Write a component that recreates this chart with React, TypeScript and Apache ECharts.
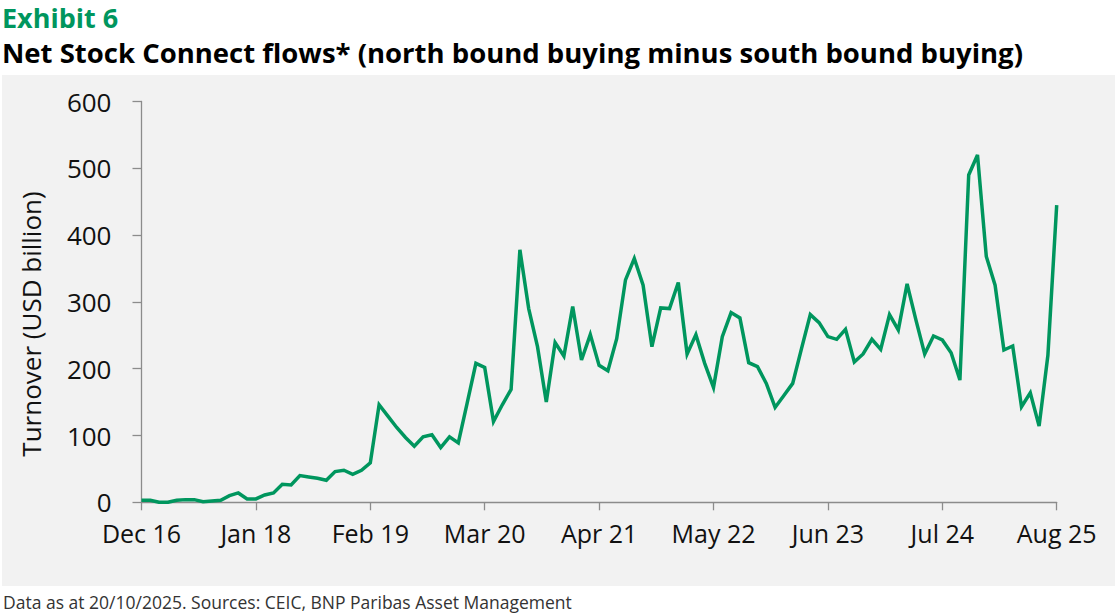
import React, { useEffect, useRef } from "react";
import * as echarts from "echarts";

const START_YEAR = 2016;
const START_MONTH = 11; // December (0-based)
const MONTH_NAMES = ["Jan", "Feb", "Mar", "Apr", "May", "Jun", "Jul", "Aug", "Sep", "Oct", "Nov", "Dec"];

const netFlows: number[] = [
  3, 3, 0, 0, 3, 4, 4, 1, 2, 3, 10, 14, 5,
  5, 11, 14, 27, 26, 40, 38, 36, 33, 46, 48, 42, 48,
  59, 146, 129, 112, 97, 84, 98, 101, 82, 98, 89, 148, 208,
  202, 121, 146, 169, 378, 290, 233, 150, 239, 219, 293, 213, 251,
  205, 197, 245, 333, 365, 325, 233, 291, 290, 329, 222, 251, 208,
  172, 248, 284, 276, 209, 203, 178, 142, 160, 178, 230, 281, 269,
  248, 244, 259, 210, 222, 244, 229, 281, 258, 327, 273, 222, 249,
  243, 224, 183, 490, 520, 368, 325, 228, 234, 143, 164, 114, 220,
  445,
];

const months: string[] = netFlows.map((_, i) => {
  const m = START_MONTH + i;
  const y = START_YEAR + Math.floor(m / 12);
  return `${MONTH_NAMES[m % 12]} ${String(y % 100).padStart(2, "0")}`;
});

const yTicks = { min: 0, max: 600, interval: 100 };

const TITLE = "Exhibit 6";
const SUBTITLE = "Net Stock Connect flows* (north bound buying minus south bound buying)";
const Y_NAME = "Turnover (USD billion)";
const FOOTER = "Data as at 20/10/2025. Sources: CEIC, BNP Paribas Asset Management";

const FONT = "'Open Sans', 'Noto Sans', sans-serif";
const GREEN = "#00965e";
const AXIS_GREY = "#8c8c8c";

export default function App() {
  const ref = useRef<HTMLDivElement>(null);

  useEffect(() => {
    document.body.style.margin = "0";
    if (!ref.current) return;
    const chart = echarts.init(ref.current, undefined, { renderer: "svg" });
    chart.setOption({
      animation: false,
      backgroundColor: "#ffffff",
      textStyle: { fontFamily: FONT },
      grid: { left: 141.5, right: 58.3, top: 101.5, bottom: 110.7, containLabel: false },
      graphic: [
        {
          type: "rect",
          z: -10,
          silent: true,
          shape: { x: 2, y: 75, width: 1113, height: 511 },
          style: { fill: "#f2f2f2" },
        },
        {
          type: "text",
          x: 2,
          y: 17,
          style: {
            text: TITLE,
            fill: GREEN,
            font: `bold 27px ${FONT}`,
            textVerticalAlign: "middle",
          },
        },
        {
          type: "text",
          x: 2,
          y: 52,
          style: {
            text: SUBTITLE,
            fill: "#000000",
            font: `bold 27.5px ${FONT}`,
            textVerticalAlign: "middle",
          },
        },
        {
          type: "text",
          x: 31,
          y: 324,
          rotation: Math.PI / 2,
          style: {
            text: Y_NAME,
            fill: "#111111",
            font: `26px ${FONT}`,
            textAlign: "center",
            textVerticalAlign: "middle",
          },
        },
        {
          type: "text",
          x: 3,
          y: 602,
          style: {
            text: FOOTER,
            fill: "#333333",
            font: `17.5px ${FONT}`,
            textVerticalAlign: "middle",
          },
        },
      ],
      xAxis: {
        type: "category",
        data: months,
        boundaryGap: false,
        axisLine: { show: true, lineStyle: { color: AXIS_GREY, width: 1.3 } },
        axisTick: { show: true, interval: 12, length: 8, lineStyle: { color: AXIS_GREY, width: 1.3 } },
        axisLabel: { interval: 12, fontSize: 25, color: "#111111", margin: 18, fontFamily: FONT },
        splitLine: { show: false },
      },
      yAxis: {
        type: "value",
        min: yTicks.min,
        max: yTicks.max,
        interval: yTicks.interval,
        axisLine: { show: true, lineStyle: { color: AXIS_GREY, width: 1.3 } },
        axisTick: { show: true, length: 9, lineStyle: { color: AXIS_GREY, width: 1.3 } },
        axisLabel: { fontSize: 26, color: "#111111", margin: 30, fontFamily: FONT },
        splitLine: { show: false },
      },
      series: [
        {
          type: "line",
          data: netFlows,
          showSymbol: false,
          symbol: "none",
          smooth: false,
          lineStyle: { color: GREEN, width: 3.5, cap: "butt", join: "miter" },
          z: 3,
        },
      ],
    });
    return () => chart.dispose();
  }, []);

  return (
    <div
      ref={ref}
      style={{ position: "absolute", left: 0, top: 0, width: 1115, height: 613 }}
    />
  );
}
